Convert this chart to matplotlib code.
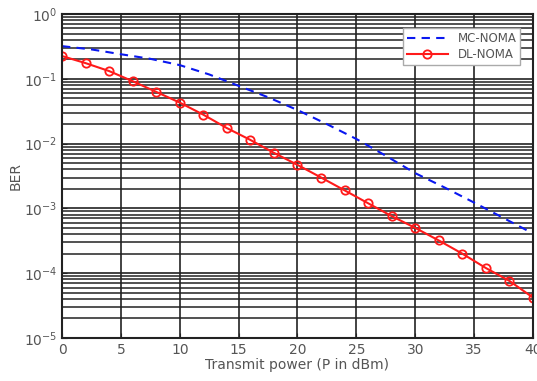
import numpy as np
import matplotlib
matplotlib.use("Agg")
import matplotlib.pyplot as plt
from matplotlib.ticker import LogLocator, NullFormatter

# Data
dl_x = [0, 2, 4, 6, 8, 10, 12, 14, 16, 18, 20, 22, 24, 26, 28, 30, 32, 34, 36, 38, 40]
dl_ber = [0.225, 0.175, 0.132, 0.092, 0.063, 0.043, 0.028, 0.0174, 0.0114, 0.0072,
          0.0047, 0.0030, 0.0019, 0.0012, 0.00076, 0.00050, 0.00032, 0.00020,
          0.00012, 0.000076, 0.000042]
mc_x = [0, 2.5, 5, 7.5, 10, 12.5, 15, 17.5, 20, 22.5, 25, 27.5, 30, 32.5, 35, 37.5, 40]
mc_ber = [0.32, 0.285, 0.24, 0.204, 0.163, 0.117, 0.078, 0.052, 0.033, 0.020,
          0.0118, 0.0065, 0.0035, 0.0021, 0.00123, 0.00071, 0.00041]
x_ticks = [0, 5, 10, 15, 20, 25, 30, 35, 40]

fig = plt.figure(figsize=(5.37, 3.81), dpi=100)
ax = fig.add_axes([0.1155, 0.113, 0.877, 0.85])

ax.set_yscale("log")
ax.set_xlim(0, 40)
ax.set_ylim(1e-5, 1)
ax.set_xticks(x_ticks)
ax.yaxis.set_major_locator(LogLocator(base=10, numticks=10))
ax.yaxis.set_minor_locator(LogLocator(base=10, subs=np.arange(2, 10), numticks=20))
ax.yaxis.set_minor_formatter(NullFormatter())

ax.grid(True, which="major", axis="both", color="#222222", linewidth=1.2)
ax.grid(True, which="minor", axis="y", color="#222222", linewidth=1.1)
ax.set_axisbelow(True)

ax.plot(mc_x, mc_ber, linestyle=(0, (4, 3)), color="#0a18f0", linewidth=1.5, label="MC-NOMA")
ax.plot(dl_x, dl_ber, "-o", color="#ff1a1a", linewidth=1.5, markersize=6,
        markerfacecolor="none", markeredgewidth=1.3, label="DL-NOMA")

for s in ax.spines.values():
    s.set_color("#222222")
    s.set_linewidth(1.5)

ax.tick_params(axis="both", which="both", direction="in", colors="#222222",
               labelcolor="#555555", labelsize=10)
ax.tick_params(which="minor", length=0)
ax.set_xlabel("Transmit power (P in dBm)", color="#555555", fontsize=10, labelpad=1)
ax.set_ylabel("BER", color="#555555", fontsize=10, labelpad=1)

leg = ax.legend(loc="upper right", bbox_to_anchor=(0.985, 0.975), fontsize=8.5,
                frameon=True, fancybox=False, edgecolor="#aaaaaa", framealpha=1,
                handlelength=3.5, borderpad=0.3, labelspacing=0.3)
leg.get_frame().set_linewidth(1.0)
for t in leg.get_texts():
    t.set_color("#555555")

fig.savefig("out.png", dpi=100)
